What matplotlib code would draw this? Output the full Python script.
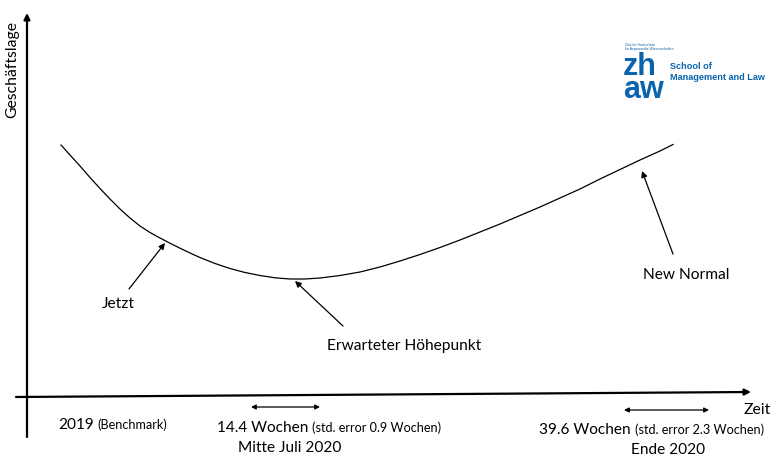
import matplotlib
matplotlib.use('Agg')
import matplotlib.pyplot as plt

plt.rcParams['font.family'] = ['Lato', 'DejaVu Sans']

# ---------------- data (screen-like units) ----------------
curve_x = [61, 70, 80, 90, 100, 110, 120, 130, 140, 150, 160, 170, 180, 190, 200, 215, 230,
           245, 260, 275, 290, 305, 320, 340, 360, 380, 400, 420, 440, 460, 480, 500, 520,
           540, 560, 580, 600, 620, 640, 660, 673]
curve_y = [145, 155, 166, 177.5, 188.5, 199, 209, 218, 226, 232.5, 238, 243.2, 248.2, 253, 257.5, 263.5, 268.5,
           272.5, 275.5, 277.8, 279, 279, 278, 275.5, 272, 267, 261, 254.5, 247.5, 240, 232, 224, 215.5,
           207, 198, 189, 179, 169.5, 160, 151, 144.5]

callouts = ['Jetzt', 'Erwarteter Höhepunkt', 'New Normal']
callout_tip = [(165, 243), (295, 281), (642, 171)]
callout_tail = [(129, 289), (343, 326), (673, 254)]
callout_text = [(118, 304), (404, 346), (686, 275)]

zhaw_blue = '#0a64ad'
W, H = 784, 461

fig = plt.figure(figsize=(W / 100, H / 100), dpi=100)
ax = fig.add_axes([0, 0, 1, 1])
ax.set_xlim(0, W)
ax.set_ylim(H, 0)
ax.axis('off')

# axes drawn as arrows
ax.annotate('', xy=(27, 13), xytext=(27, 437),
            arrowprops=dict(arrowstyle='-|>', color='black', lw=1.6, mutation_scale=9, shrinkA=0, shrinkB=0))
ax.annotate('', xy=(751, 392), xytext=(16, 397),
            arrowprops=dict(arrowstyle='-|>', color='black', lw=1.6, mutation_scale=9, shrinkA=0, shrinkB=0))
ax.text(12, 69, 'Geschäftslage', rotation=90, ha='center', va='center', fontsize=11.3)
ax.text(757, 410, 'Zeit', ha='center', va='center', fontsize=11.3)

# curve
ax.plot(curve_x, curve_y, color='black', lw=0.9, solid_joinstyle='round')

# callouts
for lab, tip, tail, pos in zip(callouts, callout_tip, callout_tail, callout_text):
    ax.annotate('', xy=tip, xytext=tail,
                arrowprops=dict(arrowstyle='-|>', color='black', lw=0.9, mutation_scale=9, shrinkA=0, shrinkB=0))
    ax.text(pos[0], pos[1], lab, ha='center', va='center', fontsize=11.2)

# double arrows for the uncertainty
ax.annotate('', xy=(320, 407), xytext=(251, 407),
            arrowprops=dict(arrowstyle='<|-|>', color='black', lw=0.9, mutation_scale=7, shrinkA=0, shrinkB=0))
ax.annotate('', xy=(709, 410), xytext=(624, 410),
            arrowprops=dict(arrowstyle='<|-|>', color='black', lw=0.9, mutation_scale=7, shrinkA=0, shrinkB=0))

# bottom labels with a big and a small part
fig.canvas.draw()
rend = fig.canvas.get_renderer()


def two_part(x, y, big, small):
    t = ax.text(x, y, big, ha='left', va='baseline', fontsize=11.1)
    bb = t.get_window_extent(renderer=rend)
    x2 = ax.transData.inverted().transform((bb.x1, 0))[0] + 4
    ax.text(x2, y, small, ha='left', va='baseline', fontsize=9.1)


two_part(58, 429, '2019', '(Benchmark)')
two_part(217, 432, '14.4 Wochen', '(std. error 0.9 Wochen)')
two_part(539, 434, '39.6 Wochen', '(std. error 2.3 Wochen)')
ax.text(290, 448, 'Mitte Juli 2020', ha='center', va='center', fontsize=11.1)
ax.text(668, 450, 'Ende 2020', ha='center', va='center', fontsize=11.1)

# zhaw logo
logo = ['Liberation Sans', 'DejaVu Sans']
ax.text(625, 47, 'Zürcher Hochschule\nfür Angewandte Wissenschaften', fontsize=2.4, color=zhaw_blue,
        va='center', family=logo, linespacing=1.3)
ax.text(623, 78.5, 'zh\naw', fontsize=22, fontweight='bold', color=zhaw_blue, va='center',
        family=logo, linespacing=0.68)
ax.text(670, 72, 'School of\nManagement and Law', fontsize=6.6, fontweight='bold', color=zhaw_blue,
        va='center', family=logo, linespacing=1.15)

fig.savefig('out.png', dpi=100, facecolor='white')
